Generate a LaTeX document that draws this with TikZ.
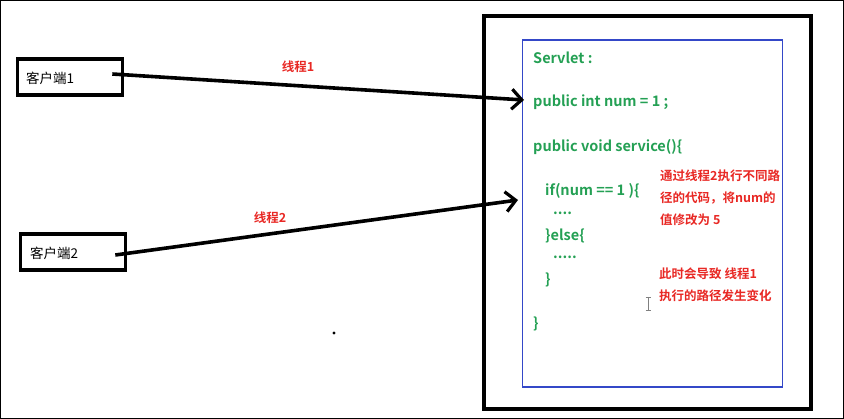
\documentclass[tikz,border=0pt]{standalone}
\usepackage{fontspec}
\setmainfont{Noto Sans CJK SC}[BoldFont={Noto Sans CJK SC Bold}]
\usetikzlibrary{arrows.meta}
\definecolor{codegreen}{RGB}{36,160,84}
\definecolor{notered}{RGB}{232,40,36}
\definecolor{boxblue}{RGB}{52,72,200}
\begin{document}
\begin{tikzpicture}[x=1pt,y=-1pt,
  clientbox/.style={draw,line width=3.6pt,minimum width=105pt,minimum height=36pt,inner sep=0pt},
  clienttext/.style={anchor=west,font=\fontsize{13.5pt}{15pt}\selectfont,inner sep=0pt},
  arr/.style={line width=3.6pt,-{Straight Barb[length=10pt,width=20pt,line width=3.2pt]}},
  lbl/.style={text=notered,font=\bfseries\fontsize{12.5pt}{15pt}\selectfont,inner sep=0pt},
  code/.style={anchor=west,text=codegreen,font=\bfseries\fontsize{14.5pt}{16pt}\selectfont,inner sep=0pt},
  note/.style={anchor=west,text=notered,font=\bfseries\fontsize{12.5pt}{15pt}\selectfont,inner sep=0pt}]
\useasboundingbox (0,0) rectangle (844,419);
\draw[line width=1pt] (0.5,0.5) rectangle (843.5,418.5);
% clients
\node[clientbox] (c1) at (70,77) {};
\node[clienttext] (c1t) at (26,78) {客户端1};
\node[clientbox] (c2) at (73,252) {};
\node[clienttext] (c2t) at (30,253) {客户端2};
% server boxes
\node[draw,line width=4pt,minimum width=327pt,minimum height=393pt,inner sep=0pt] (server) at (647.5,212.5) {};
\node[draw=boxblue,line width=1.6pt,minimum width=260pt,minimum height=347pt,inner sep=0pt] (servlet) at (652.5,213.5) {};
% arrow targets
\coordinate (t1) at (524,100);
\coordinate (t2) at (518,200);
\draw[arr] ([xshift=-12pt,yshift=3pt]c1.east) -- (t1);
\draw[arr] ([xshift=-12pt,yshift=-3pt]c2.east) -- (t2);
\node[lbl] (l1) at (298,67) {线程1};
\node[lbl] (l2) at (270,218) {线程2};
% code
\node[code] (s1) at (533,58) {Servlet :};
\node[code] (s2) at (533,102) {public int num = 1 ;};
\node[code] (s3) at (533,147) {public void service()\{};
\node[code] (s4) at (545,191) {if(num == 1 )\{};
\node[code] (s5) at (553,213) {....};
\node[code] (s6) at (545,236) {\}else\{};
\node[code] (s7) at (553,257) {.....};
\node[code] (s8) at (545,280) {\}};
\node[code] (s9) at (533,324) {\}};
% notes
\node[note] (n1) at (660,176) {通过线程2执行不同路};
\node[note] (n2) at (660,198) {径的代码，将num的};
\node[note] (n3) at (660,220) {值修改为 5};
\node[note] (n4) at (659,274) {此时会导致 线程1};
\node[note] (n5) at (659,296) {执行的路径发生变化};
% cursor and dot
\draw[gray,line width=0.8pt] (648,297) -- (648,310) (645.5,297) -- (650.5,297) (645.5,310) -- (650.5,310);
\fill (334,333) circle (1.6pt);
\end{tikzpicture}
\end{document}
